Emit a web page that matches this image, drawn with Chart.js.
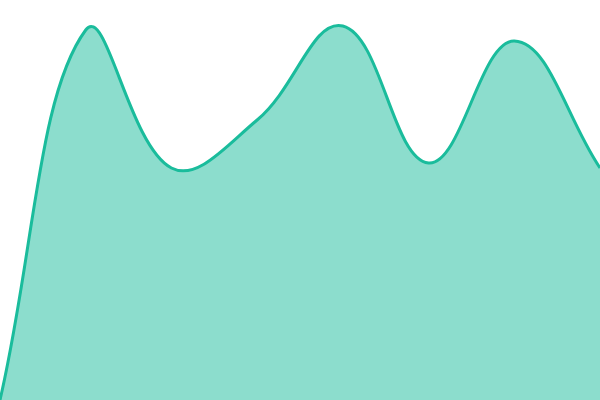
<!DOCTYPE html>
<html>
<head>
<meta charset="utf-8">
<script src="https://cdn.jsdelivr.net/npm/chart.js@4"></script>
<style>
  html, body { margin: 0; padding: 0; background: #fff; }
  #wrap { width: 600px; height: 400px; position: relative; }
</style>
</head>
<body>
<div id="wrap"><canvas id="chart"></canvas></div>
<script>
// chart data
const labels = ['1', '2', '3', '4', '5', '6', '7', '8'];
const values = [0, 370, 232, 280, 374, 237, 359, 232];

const ctx = document.getElementById('chart').getContext('2d');
const chart = new Chart(ctx, {
    type: 'line',
    data: {
        labels: labels,
        datasets: [{
            data: values,
            fill: 'origin',
            backgroundColor: 'rgba(26, 188, 156, 0.5)',
            borderColor: 'rgb(26, 188, 156)',
            borderWidth: 3,
            tension: 0.4,
            pointRadius: 0
        }]
    },
    options: {
        responsive: true,
        maintainAspectRatio: false,
        animation: false,
        layout: { padding: 0 },
        plugins: { legend: { display: false }, tooltip: { enabled: false } },
        scales: {
            x: { display: false, offset: false },
            y: { display: false, min: 0, max: 400 }
        }
    }
});
</script>
</body>
</html>
